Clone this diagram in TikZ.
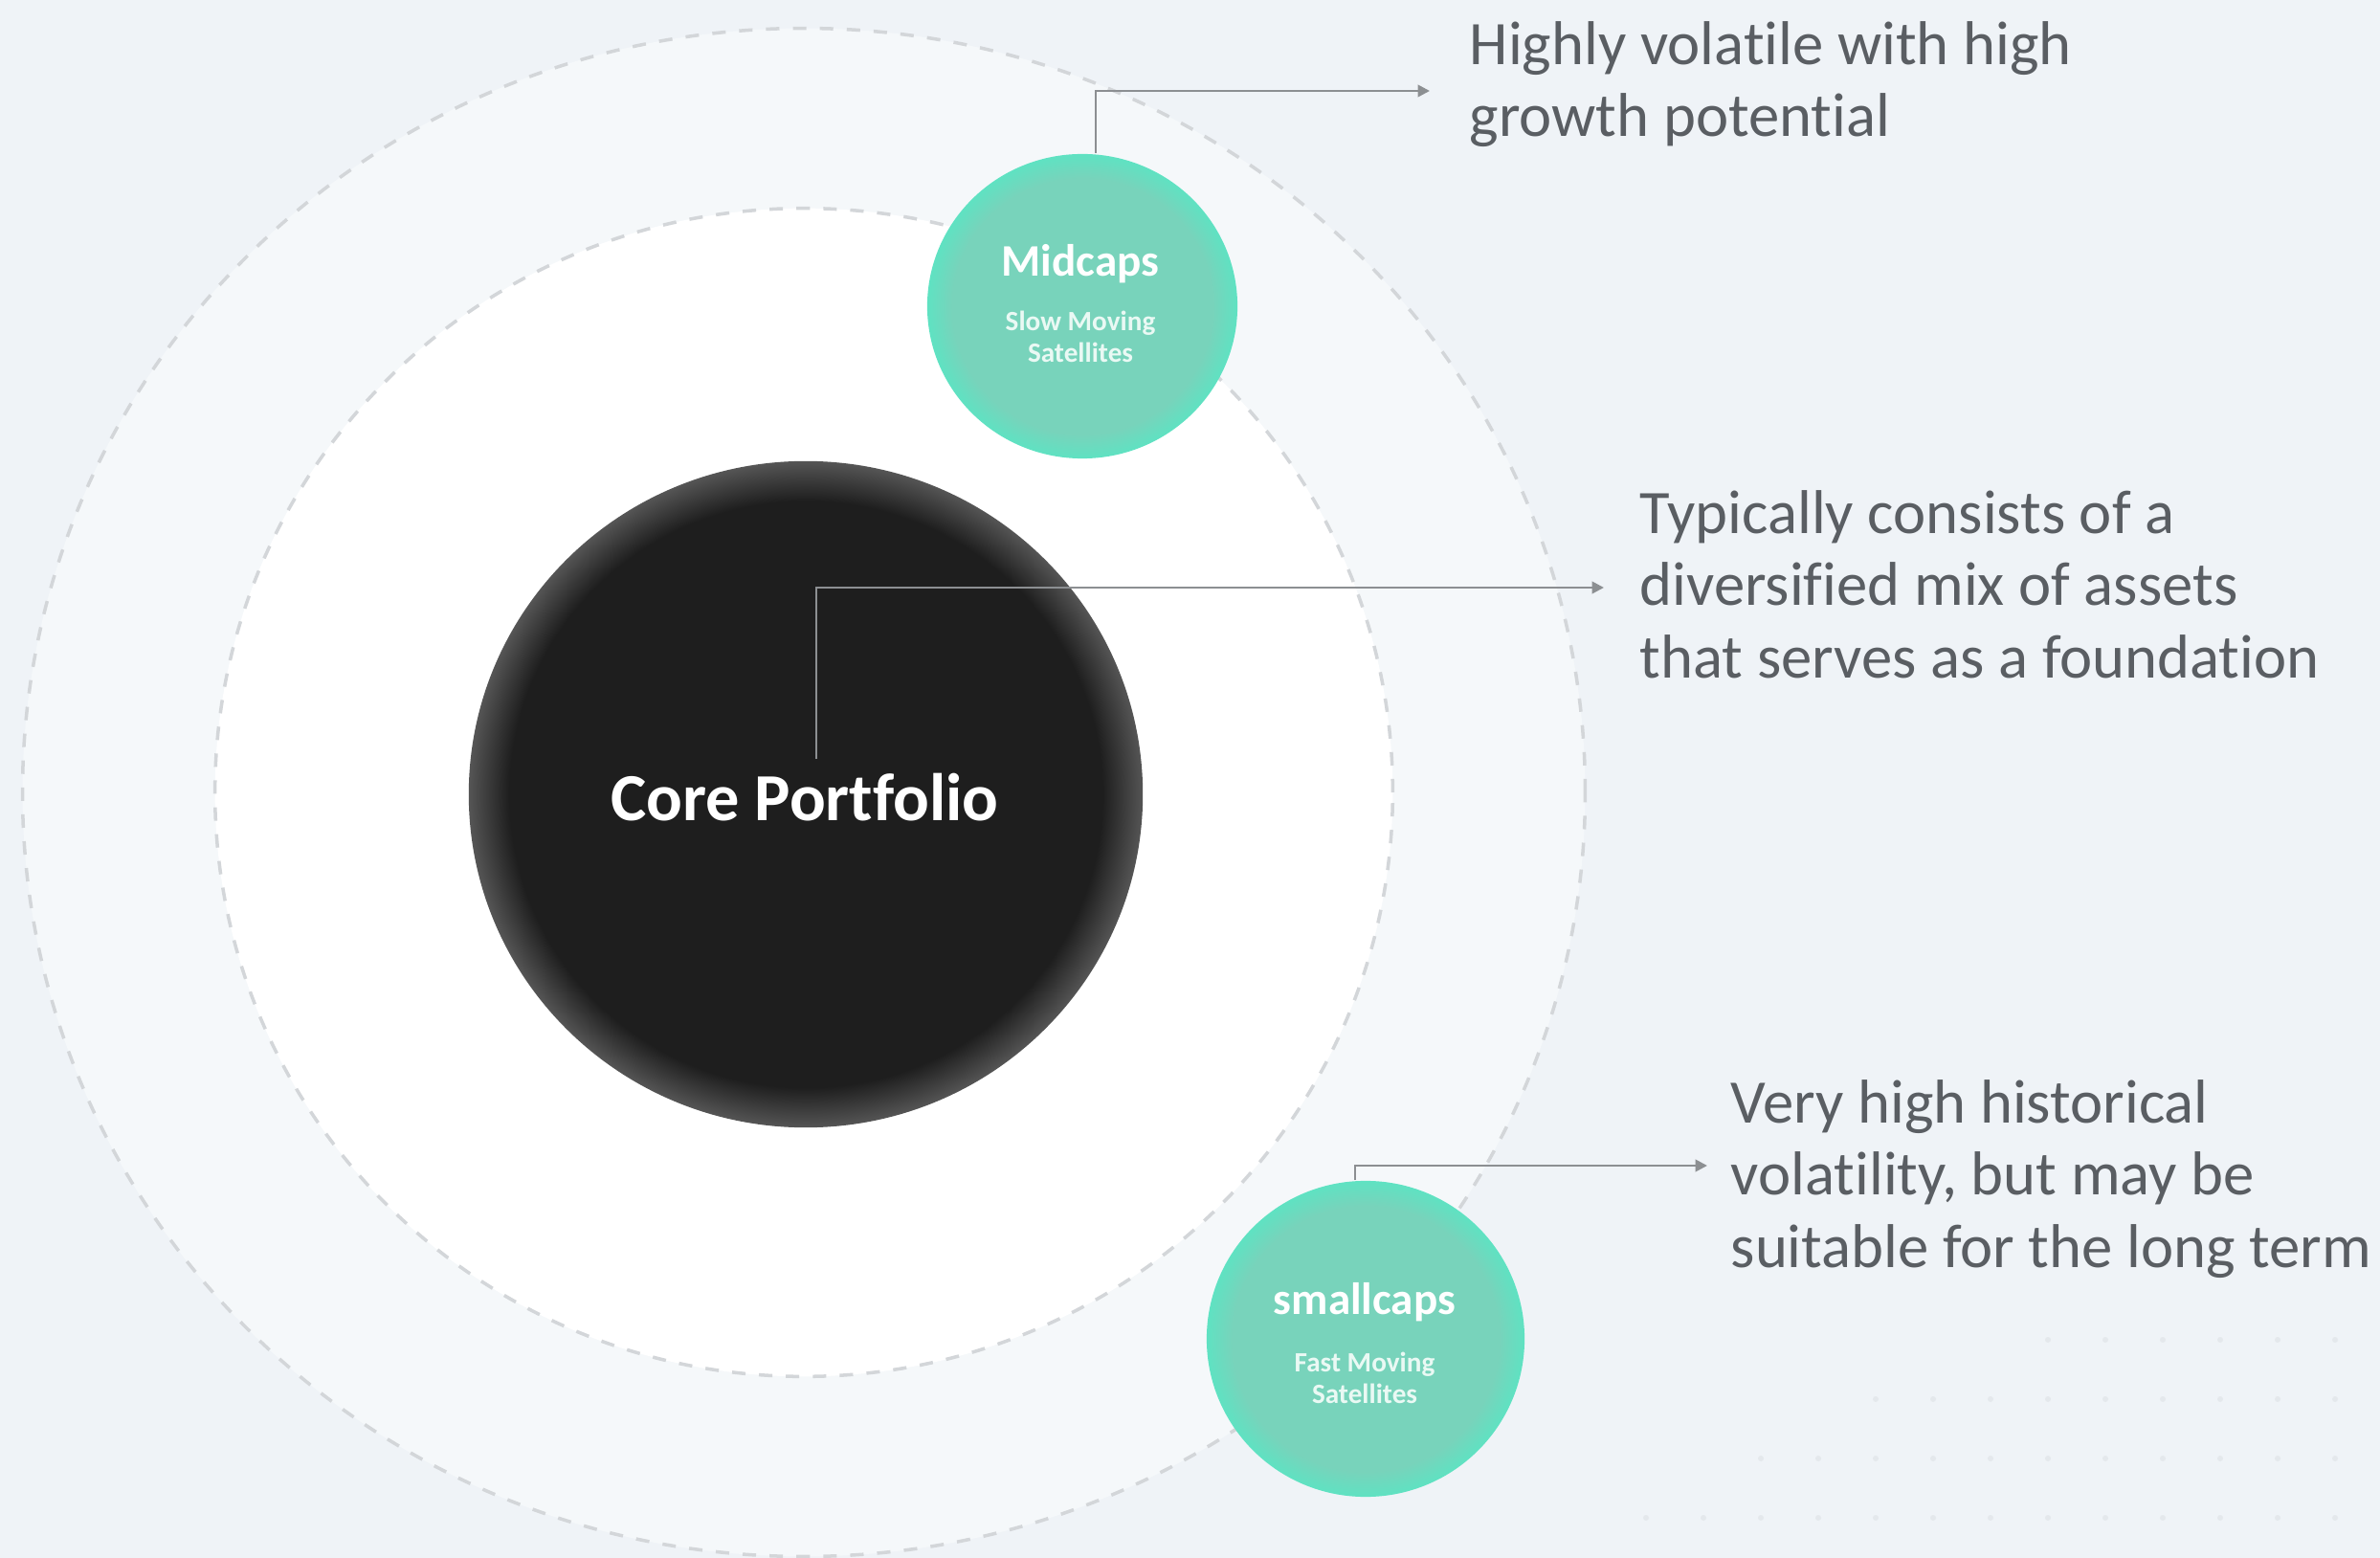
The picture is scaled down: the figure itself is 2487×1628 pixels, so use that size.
\documentclass[tikz,border=0pt]{standalone}
\usepackage{fontspec}
\setmainfont{Carlito}[Ligatures=NoCommon]
\usetikzlibrary{shapes.geometric,arrows.meta}
\definecolor{bg}{HTML}{EFF3F7}
\definecolor{outerfill}{HTML}{F5F8FA}
\definecolor{ringline}{HTML}{D3D6D9}
\definecolor{corefill}{HTML}{1E1E1E}
\definecolor{corerim}{HTML}{555555}
\definecolor{greenfill}{HTML}{78D3BB}
\definecolor{greenrim}{HTML}{5FE2C2}
\definecolor{conncol}{HTML}{8C8F92}
\definecolor{txtcol}{HTML}{5A5E63}
\definecolor{subtxt}{HTML}{EAF9F4}
\definecolor{dotcol}{HTML}{E4E8EC}
\pgfdeclareradialshading{coreshade}{\pgfpoint{0bp}{0bp}}{color(0bp)=(corefill); color(22bp)=(corefill); color(25bp)=(corerim); color(50bp)=(corerim)}
\pgfdeclareradialshading{greenshade}{\pgfpoint{0bp}{0bp}}{color(0bp)=(greenfill); color(21bp)=(greenfill); color(25bp)=(greenrim); color(50bp)=(greenrim)}
\tikzset{
  ring/.style={ellipse, inner sep=0pt, draw=ringline, line width=1pt, dash pattern=on 4pt off 4pt},
  coreball/.style={ellipse, inner sep=0pt, shading=coreshade},
  satball/.style={ellipse, inner sep=0pt, shading=greenshade, align=center},
  conn/.style={draw=conncol, line width=0.75pt, -{Triangle[length=3.5pt,width=3.5pt]}},
  desc/.style={anchor=north west, inner sep=0pt, align=left, text=txtcol, font=\fontsize{18.4}{21.4}\selectfont},
  sattitle/.style={font=\bfseries\fontsize{13.4}{15}\selectfont, text=white},
  satsub/.style={font=\bfseries\fontsize{8.3}{9.5}\selectfont, text=subtxt}
}
\begin{document}
\begin{tikzpicture}[x=0.01cm,y=-0.01cm]
\useasboundingbox (0,0) rectangle (2487,1628);
\fill[bg] (0,0) rectangle (2487,1628);
% faint dot grid
\foreach \yy/\xs in {1400/2140,1462/1960,1524/1840,1586/1720}{
  \pgfmathsetmacro{\xn}{\xs+60}
  \foreach \xx in {\xs,\xn,...,2450}{
    \fill[dotcol] (\xx,\yy) circle[radius=3];
  }
}
% rings
\node[ring, fill=outerfill, minimum width=16.32cm, minimum height=15.96cm] (outer) at (840,828) {};
\node[ring, fill=white, minimum width=12.30cm, minimum height=12.20cm] (inner) at (840,828) {};
% core
\node[coreball, minimum width=7.04cm, minimum height=6.96cm] (core) at (842,830) {};
\node[font=\bfseries\fontsize{20}{24}\selectfont, text=white] (coretxt) at (841,833) {Core Portfolio};
% satellites
\node[satball, minimum width=3.24cm, minimum height=3.18cm] (mid) at (1131,320) {};
\node[sattitle] (midt) at (1129,276) {Midcaps};
\node[satsub, align=center] (mids) at (1129,352) {Slow Moving\\Satellites};
\node[satball, minimum width=3.32cm, minimum height=3.30cm] (small) at (1427,1399) {};
\node[sattitle] (smallt) at (1426,1361) {smallcaps};
\node[satsub, align=center] (smalls) at (1426,1440) {Fast Moving\\Satellites};
% descriptions
\node[desc] (t1) at (1535,22) {Highly volatile with high\\growth potential};
\node[desc] (t2) at (1713,512) {Typically consists of a\\diversified mix of assets\\that serves as a foundation};
\node[desc] (t3) at (1808,1128) {Very high historical\\volatility, but may be\\suitable for the long term};
% connectors
\coordinate (a1) at (1494,95);
\coordinate (a2) at (1676,614);
\coordinate (a3) at (1784,1218);
\draw[conn] ([xshift=0.14cm]mid.north) |- (a1);
\draw[conn] ([shift={(11,-37)}]core.center) |- (a2);
\draw[conn] ([xshift=-0.11cm]small.north) |- (a3);
\end{tikzpicture}
\end{document}
